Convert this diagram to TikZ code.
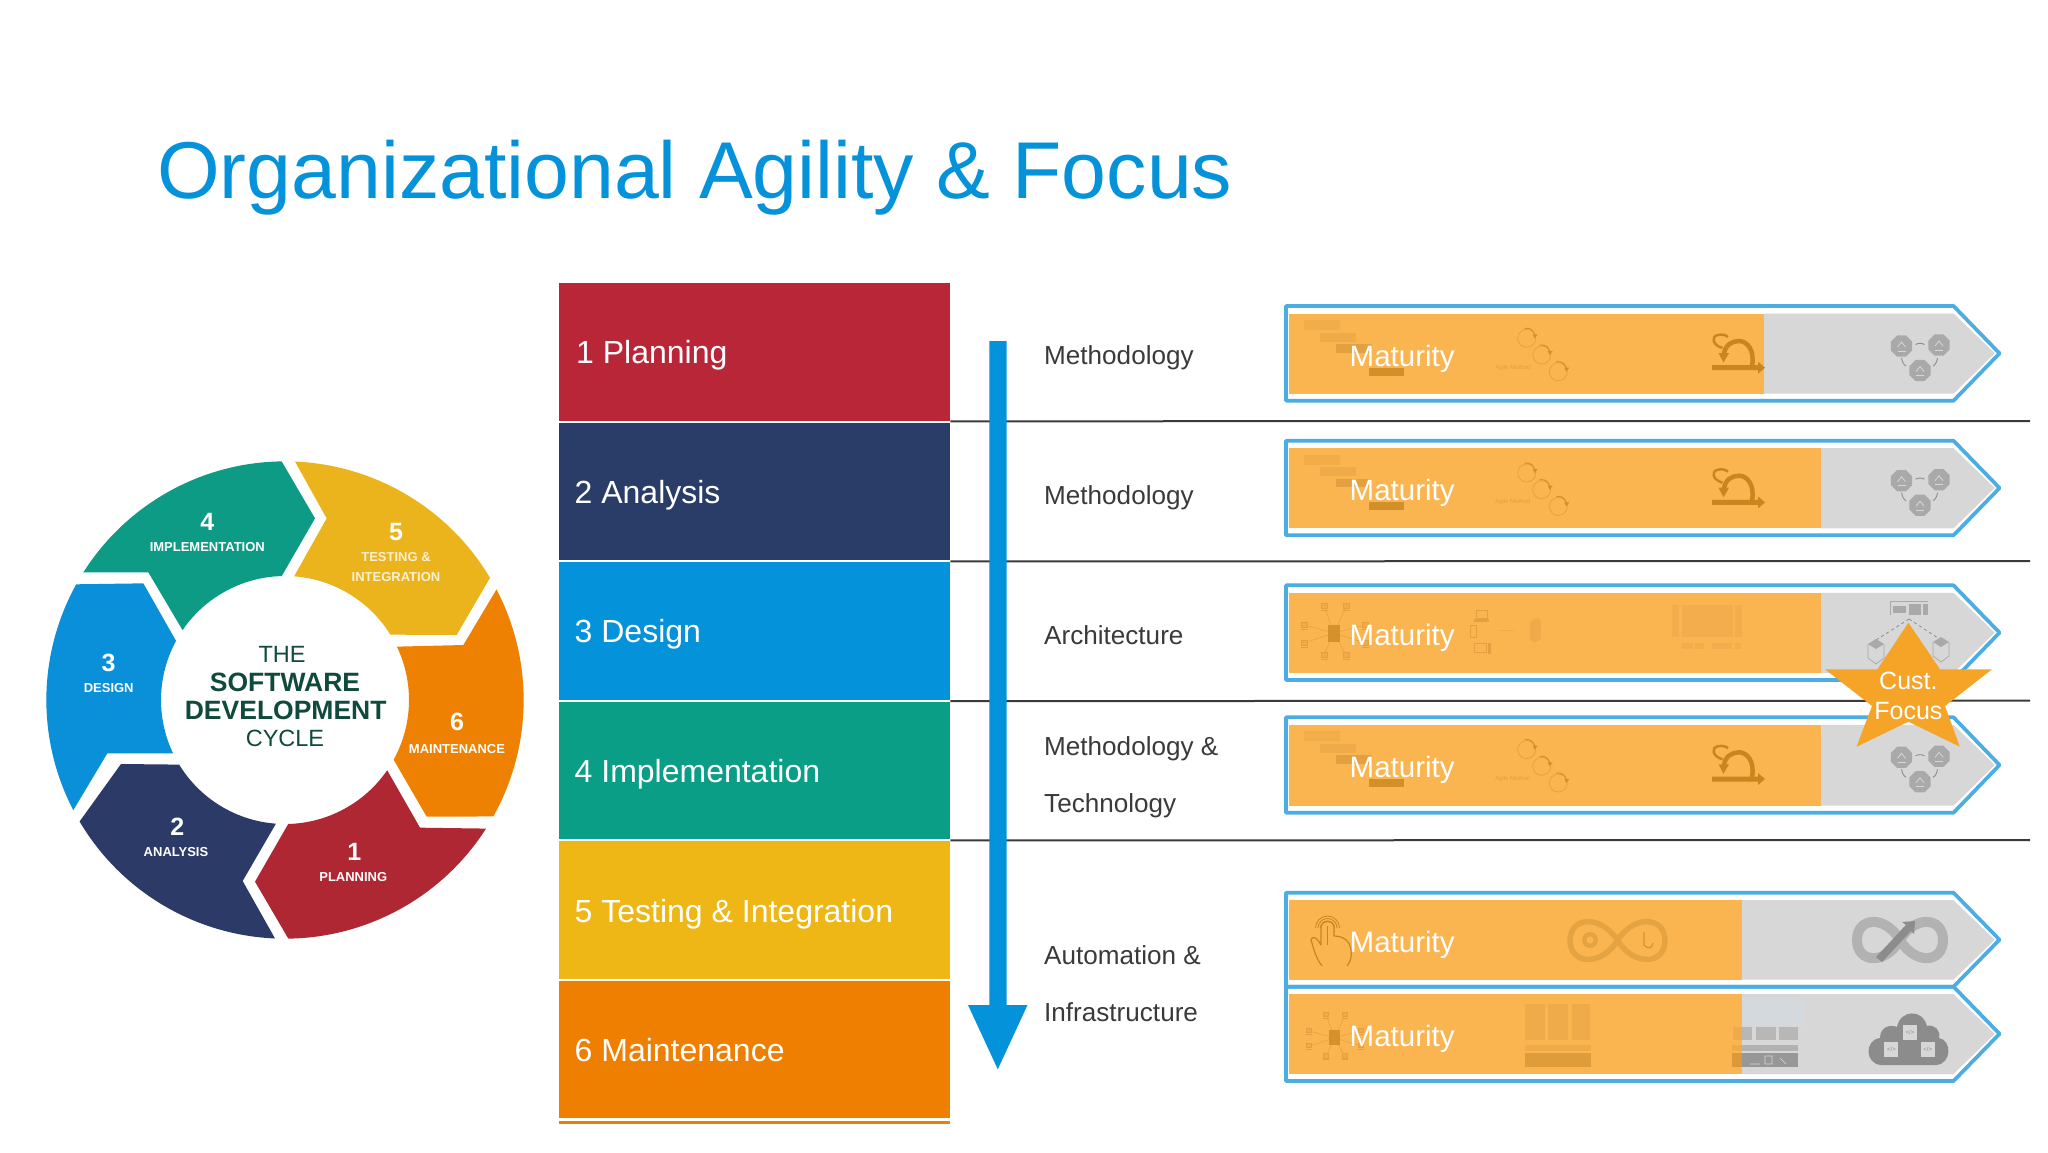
\documentclass[tikz,border=0pt]{standalone}
\usepackage{fontspec}
\setmainfont{Liberation Sans}
\newcommand\fs[1]{\fontsize{#1}{#1}\selectfont}
\definecolor{titleblue}{HTML}{0492DB}
\definecolor{rowred}{HTML}{B92638}
\definecolor{rownavy}{HTML}{2A3C68}
\definecolor{rowteal}{HTML}{0A9E87}
\definecolor{rowyellow}{HTML}{EEB716}
\definecolor{roworange}{HTML}{EF7F00}
\definecolor{wred}{HTML}{AE2733}
\definecolor{wnavy}{HTML}{2B3A67}
\definecolor{wblue}{HTML}{0A8FD9}
\definecolor{wteal}{HTML}{0E9B85}
\definecolor{wyellow}{HTML}{EBB41D}
\definecolor{worange}{HTML}{EE8002}
\definecolor{dgreen}{HTML}{0F4A3C}
\definecolor{labelgray}{HTML}{3A3A3A}
\definecolor{barblue}{HTML}{4BADE2}
\definecolor{barorange}{HTML}{FBB550}
\definecolor{bargray}{HTML}{D7D7D7}
\definecolor{palegray}{HTML}{D3D9DD}
\definecolor{starorange}{HTML}{F5A428}
\definecolor{icA}{HTML}{C9851E}
\definecolor{icB}{HTML}{E2A040}
\definecolor{icC}{HTML}{EFAA4A}
\definecolor{icG}{HTML}{A9A9A9}
\definecolor{icD}{HTML}{8C8C8C}
\tikzset{
  rowbox/.style={anchor=north west,inner sep=0,minimum width=391pt,text=white},
  rowtext/.style={anchor=base west,inner sep=0,text=white,font=\fs{32}},
  sidelabel/.style={anchor=base west,inner sep=0,text=labelgray,font=\fs{26.1}},
  matlabel/.style={anchor=base west,inner sep=0,text=white,font=\fs{29.5}},
  wnum/.style={anchor=base,inner sep=0,text=white,font=\fs{25}\bfseries},
  wlab/.style={anchor=base,inner sep=0,text=white,font=\fs{13}\bfseries},
  wcenB/.style={anchor=base,inner sep=0,text=dgreen,font=\fs{26.5}\bfseries},
  wcenR/.style={anchor=base,inner sep=0,text=dgreen,font=\fs{23.5}},
  sepline/.style={draw=labelgray,line width=2pt},
  baroutline/.style={draw=barblue,line width=3.7pt,line join=round},
  tiny/.style={inner sep=0,font=\fs{6}},
}
% bar: top, bottom, split x
\newcommand\matbar[3]{%
  \pgfmathsetmacro\mt{#1+7.5}\pgfmathsetmacro\mb{#2-7}\pgfmathsetmacro\mm{(#1+#2)/2}%
  \fill[bargray] (#3,\mt) -- (1953.5,\mt) -- (1994.7,\mm) -- (1953.5,\mb) -- (#3,\mb) -- cycle;
  \fill[barorange] (1289.4,\mt) rectangle (#3,\mb);
  \draw[baroutline] (1286,#1) -- (1953.5,#1) -- (1999.5,\mm) -- (1953.5,#2) -- (1286,#2) -- cycle;
}
\newcommand\gantticon{%
  \fill[icC!75!barorange] (1304,320) rectangle (1340,330);
  \fill[icC] (1320,332.7) rectangle (1356,341.7);
  \fill[icB] (1336,344) rectangle (1372,352.7);
  \fill[icA!80!barorange] (1369,367.7) rectangle (1404,375.7);
}
\newcommand\agileicon[1]{%
  \foreach \cx/\cy in {1526.7/338.3,1541.7/355,1558.3/371.7}{
    \draw[icB,line width=.7pt] (\cx,\cy) circle[radius=9pt];
    \draw[icA!80!barorange,line width=1pt] (\cx-2,\cy-10) .. controls (\cx+4,\cy-11) and (\cx+8,\cy-7) .. (\cx+8,\cy-2);
    \fill[icA!80!barorange] (\cx+6,\cy-4) -- (\cx+11,\cy-4) -- (\cx+8,\cy) -- cycle;
  }
  \node[tiny,text=icB] (#1) at (1512.7,367.7) {Agile Method};
}
\newcommand\scrumicon{%
  \fill[icA] (1712,365.2) -- (1758,365.2) -- (1758,361.7) -- (1765,367.7) -- (1758,373.7) -- (1758,370.2) -- (1712,370.2) -- cycle;
  \draw[icA,line width=4.5pt] (1752,366) .. controls (1755,350) and (1747,341) .. (1739,341) .. controls (1732,341) and (1725,345) .. (1724,354);
  \fill[icA] (1718.5,353) -- (1729,353) -- (1723.5,362.5) -- cycle;
  \draw[icA,line width=2.5pt] (1722.5,348) .. controls (1712,345) and (1711,336) .. (1718,335) .. controls (1722,334) and (1726,335) .. (1728,337);
}
\newcommand\hexicon{%
  \foreach \cx/\cy in {1901.5/346,1939/345,1920/370.5}{
    \fill[icG] (\cx,\cy) +(22.5:11.5) -- +(67.5:11.5) -- +(112.5:11.5) -- +(157.5:11.5) -- +(202.5:11.5) -- +(247.5:11.5) -- +(292.5:11.5) -- +(337.5:11.5) -- cycle;
    \draw[bargray,line width=.8pt] (\cx-4,\cy+1) -- (\cx,\cy-4) -- (\cx+4,\cy+1);
    \draw[bargray,line width=.8pt] (\cx-4,\cy+5) -- (\cx+4,\cy+5);
  }
  \draw[icD,line width=.9pt] (1915.6,344.5) .. controls (1918,343) and (1922,343) .. (1924.4,344.5);
  \draw[icD,line width=.9pt] (1901.6,358) .. controls (1902,362) and (1904,365) .. (1906,366);
  \draw[icD,line width=.9pt] (1937.5,358) .. controls (1937,362) and (1935,365) .. (1933,366);
}
\newcommand\neticon[3]{%
  \begin{scope}[shift={(#1,#2)},scale=#3]
    \foreach \dx/\dy in {-10/-27,12.7/-27,-30/-8,-30/10,-10/22,12/22,31/-8,31/10}{
      \draw[icB,line width=.5pt] (0,0) -- (\dx,\dy);
      \draw[icB,line width=.9pt,fill=icC] (\dx-3,\dy-3) rectangle (\dx+3,\dy+2);
      \draw[icB,line width=.9pt] (\dx-3.5,\dy+4) -- (\dx+3.5,\dy+4);
    }
    \fill[icA!75!barorange] (-6,-8.5) rectangle (6,8.5);
  \end{scope}
}
\newcommand\infshape{(0,0) .. controls (.35,-1.1) and (1,-1) .. (1,0) .. controls (1,1) and (.35,1.1) .. (0,0) .. controls (-.35,-1.1) and (-1,-1) .. (-1,0) .. controls (-1,1) and (-.35,1.1) .. (0,0)}
\begin{document}
\begin{tikzpicture}[x=1pt,y=-1pt]
\useasboundingbox (0,0) rectangle (2048,1152);
\fill[white] (0,0) rectangle (2048,1152);

% title
\node[anchor=base west,inner sep=0,text=titleblue,font=\fs{80.6}] (title) at (157,198.5) {Organizational Agility \& Focus};

% wheel
\begin{scope}[x=1pt,y=1pt,shift={(285pt,-700pt)},scale=1/3]
  \fill[wteal] (147.7:716) arc[start angle=147.7,end angle=90.8,radius=716] -- (90,545) -- (91.5:372) arc[start angle=91.5,end angle=145.7,radius=372] -- (-410,383) -- cycle;
  \fill[wyellow] (87.6:716) arc[start angle=87.6,end angle=30.8,radius=716] -- (515,195) -- (31.8:372) arc[start angle=31.8,end angle=85.8,radius=372] -- (125,545) -- cycle;
  \fill[worange] (27.6:716) arc[start angle=27.6,end angle=-29.2,radius=716] -- (425,-350) -- (-28.8:372) arc[start angle=-28.8,end angle=25.5,radius=372] -- (535,165) -- cycle;
  \fill[wred] (-32.6:716) arc[start angle=-32.6,end angle=-89.2,radius=716] -- (-90,-545) -- (-88.5:372) arc[start angle=-88.5,end angle=-34.5,radius=372] -- (405,-383) -- cycle;
  \fill[wnavy] (-92.4:716) arc[start angle=-92.4,end angle=-149.4,radius=716] -- (-492,-192) -- (-148.6:372) arc[start angle=-148.6,end angle=-94.2,radius=372] -- (-127,-543) -- cycle;
  \fill[wblue] (207.5:716) arc[start angle=207.5,end angle=151,radius=716] -- (-425,350) -- (151.5:372) arc[start angle=151.5,end angle=205.5,radius=372] -- (-533,-160) -- cycle;
\end{scope}
\node[wnum] (n4) at (207.3,530.7) {4};
\node[wlab] (l4) at (207.3,551.4) {IMPLEMENTATION};
\node[wnum] (n5) at (396,540.7) {5};
\node[wlab,text=white!80!wyellow] (l5a) at (396,561.4) {TESTING \&};
\node[wlab,text=white!80!wyellow] (l5b) at (396,581.4) {INTEGRATION};
\node[wnum] (n6) at (457,730) {6};
\node[wlab] (l6) at (457,753) {MAINTENANCE};
\node[wnum] (n1) at (354.3,860.7) {1};
\node[wlab] (l1) at (353.3,881.4) {PLANNING};
\node[wnum] (n2) at (177.3,835.7) {2};
\node[wlab] (l2) at (176,856.4) {ANALYSIS};
\node[wnum] (n3) at (108.7,671.3) {3};
\node[wlab] (l3) at (108.7,692) {DESIGN};
\node[wcenR] (c1) at (282,662.3) {THE};
\node[wcenB] (c2) at (285,691.7) {SOFTWARE};
\node[wcenB] (c3) at (285.7,719.3) {DEVELOPMENT};
\node[wcenR] (c4) at (285,746.7) {CYCLE};

% rows
\node[rowbox,fill=rowred,minimum height=137.6pt] (r1) at (559,282.7) {};
\node[rowbox,fill=rownavy,minimum height=137.4pt] (r2) at (559,422.3) {};
\node[rowbox,fill=titleblue,minimum height=137.3pt] (r3) at (559,562) {};
\node[rowbox,fill=rowteal,minimum height=137pt] (r4) at (559,701.7) {};
\node[rowbox,fill=rowyellow,minimum height=137.3pt] (r5) at (559,841) {};
\node[rowbox,fill=roworange,minimum height=136.7pt] (r6) at (559,981) {};
\node[rowbox,fill=roworange,minimum height=3pt] (r7) at (559,1120.7) {};
\node[rowtext] (t1) at (576,363.8) {1 Planning};
\node[rowtext] (t2) at (574.5,503.2) {2 Analysis};
\node[rowtext] (t3) at (574.5,642.5) {3 Design};
\node[rowtext] (t4) at (574.5,782.2) {4 Implementation};
\node[rowtext] (t5) at (574.5,922) {5 Testing \& Integration};
\node[rowtext] (t6) at (574.5,1061.3) {6 Maintenance};

% separators
\coordinate (lineend1) at (2030,421);
\coordinate (lineend2) at (2030,561);
\coordinate (lineend3) at (2030,700.7);
\coordinate (lineend4) at (2030,840);
\draw[sepline] (r1.south east) ++(0,0.6) -- (lineend1);
\draw[sepline] (r2.south east) ++(0,1.3) -- (lineend2);
\draw[sepline] (r3.south east) ++(0,1.4) -- (lineend3);
\draw[sepline] (r4.south east) ++(0,1.3) -- (lineend4);

% arrow
\fill[titleblue] (989.3,341) -- (1006.7,341) -- (1006.7,1005) -- (1027.5,1005) -- (997.8,1069.3) -- (968,1005) -- (989.3,1005) -- cycle;

% side labels
\node[sidelabel] (s1) at (1044,364.5) {Methodology};
\node[sidelabel] (s2) at (1044,504.5) {Methodology};
\node[sidelabel] (s3) at (1044,644) {Architecture};
\node[sidelabel] (s4a) at (1044,755) {Methodology \&};
\node[sidelabel] (s4b) at (1044,812.5) {Technology};
\node[sidelabel] (s5a) at (1044,964) {Automation \&};
\node[sidelabel] (s5b) at (1044,1021.5) {Infrastructure};

% bars
\matbar{306}{400.7}{1763.5}
\gantticon \agileicon{ag1} \scrumicon \hexicon
\node[matlabel] (m1) at (1349.5,366) {Maturity};

\matbar{440.7}{535.3}{1821}
\begin{scope}[shift={(0,134.7)}]
  \gantticon \agileicon{ag2} \scrumicon \hexicon
\end{scope}
\node[matlabel] (m2) at (1349.5,500) {Maturity};

\matbar{585.3}{680}{1821}
\neticon{1334}{633}{1}
% devices
\draw[icB,line width=1pt] (1476,610) rectangle (1487,618); \fill[icB] (1474,619) rectangle (1489,622);
\draw[icB,line width=1pt] (1470.5,625) rectangle (1476,637);
\draw[icB,line width=1pt] (1474,643) rectangle (1486,652); \fill[icB] (1488,643) rectangle (1491,654);
\draw[icC,line width=.8pt] (1498,630.7) -- (1514,630.7);
\fill[icC] (1530,622) .. controls (1535,616) and (1541,618) .. (1541,622) -- (1541,638) .. controls (1538,644) and (1531,643) .. (1530,638) -- cycle;
\fill[icC!70!barorange] (1671.7,605) rectangle (1679,636.7);
\fill[icC!70!barorange] (1681.7,605) rectangle (1733,636.7);
\fill[icC!70!barorange] (1735,605) rectangle (1741.7,636.7);
\foreach \xa/\xb in {1682/1693,1695/1704,1712/1732,1735/1741}{\fill[icC!70!barorange] (\xa,642.7) rectangle (\xb,649);}
\draw[icG,line width=1pt] (1890,615) -- (1890,601) -- (1928,601);
\fill[icG] (1893,606) rectangle (1906,613);
\fill[icG] (1909,604) rectangle (1921,615);
\fill[icG] (1923,604) rectangle (1928,615);
\draw[icD,dashed,line width=.8pt] (1909,619) -- (1876,640) (1909,619) -- (1941,640);
\foreach \cx/\cy in {1876/650,1941/648}{
  \fill[icG] (\cx-8,\cy-6) -- (\cx,\cy-11) -- (\cx+8,\cy-6) -- (\cx,\cy-1) -- cycle;
  \draw[icG,line width=.7pt] (\cx-8,\cy-6) -- (\cx-8,\cy+8) -- (\cx,\cy+14) -- (\cx+8,\cy+8) -- (\cx+8,\cy-6);
}
\node[matlabel] (m3) at (1349.5,645) {Maturity};

\matbar{717.3}{812.7}{1821}
\begin{scope}[shift={(0,411.3)}]
  \gantticon \agileicon{ag4} \scrumicon \hexicon
\end{scope}
\node[matlabel] (m4) at (1349.5,777.3) {Maturity};

\matbar{892.7}{986.7}{1741.6}
% hand
\draw[icA,line width=1.2pt,line join=round] (1322,966) .. controls (1316,958) and (1314,950) .. (1311,940) .. controls (1312,936) and (1316,936) .. (1321,945) -- (1321,926) .. controls (1322,920) and (1333,920) .. (1334,926) -- (1334,936) .. controls (1342,936) and (1350,940) .. (1351,950) .. controls (1352,958) and (1350,962) .. (1347,966);
\foreach \r in {7,9.5,12}{\draw[icA,line width=.8pt] (1327.5,928) ++(\r pt,0) arc[start angle=0,end angle=180,radius=\r pt];}
\draw[icA,line width=.8pt] (1327,945) -- (1327,926);
% infinity
\begin{scope}[shift={(1617.5,940.5)},xscale=47.5,yscale=24]
  \draw[icB!85!barorange,line width=5.5pt] \infshape;
\end{scope}
\fill[icB!85!barorange] (1590,940) circle[radius=8pt];
\fill[barorange] (1590,940) circle[radius=3.5pt];
\draw[icA!70!barorange,line width=1.2pt] (1644,932) -- (1644,945) (1644,945) .. controls (1648,949) and (1652,949) .. (1653,943);
\begin{scope}[shift={(1900,940)},xscale=43,yscale=23]
  \draw[icG!80!bargray,line width=10pt] \infshape;
\end{scope}
\fill[icD] (1876,957) -- (1906,925) -- (1902,922) -- (1915,921) -- (1914,934) -- (1911,931) -- (1882,962) -- cycle;
\node[matlabel] (m5) at (1349.5,952.7) {Maturity};

\matbar{986.7}{1081}{1741.6}
\neticon{1334.5}{1037.7}{.85}
% stacks
\foreach \xa/\xb in {1525/1545,1548/1568,1572/1590}{\fill[icC] (\xa,1003.5) rectangle (\xb,1040);}
\fill[icC] (1525,1045) rectangle (1591,1051);
\fill[icB!85!icA] (1525,1053) rectangle (1591,1067);
\fill[palegray] (1741.6,999) rectangle (1803,1026);
\fill[icC] (1733,1027) rectangle (1741.6,1040);
\fill[icG!70!bargray] (1741.6,1027) rectangle (1752,1040);
\fill[icG!70!bargray] (1756,1027) rectangle (1776,1040);
\fill[icG!70!bargray] (1779,1027) rectangle (1798,1040);
\fill[icC] (1732,1045) rectangle (1741.6,1051);
\fill[icG!80!bargray] (1741.6,1045) rectangle (1798.4,1051);
\fill[icB!75!icA] (1732,1053) rectangle (1741.6,1067);
\fill[icD!85!bargray] (1741.6,1053) rectangle (1798.4,1067);
\draw[bargray,line width=.7pt] (1750,1064) -- (1760,1064) (1765,1056) rectangle (1772,1064) (1780,1058) -- (1786,1064);
% cloud
\fill[icD] (1881,1065) .. controls (1865,1064) and (1864,1040) .. (1880,1038) .. controls (1880,1027) and (1890,1024) .. (1897,1027) .. controls (1900,1010) and (1922,1008) .. (1927,1026) .. controls (1934,1024) and (1941,1030) .. (1939,1038) .. controls (1952,1040) and (1952,1064) .. (1936,1065) -- cycle;
\foreach \nm/\cx/\cy in {d1/1910/1032,d2/1891.4/1049,d3/1927.8/1049}{
  \fill[bargray] (\cx-7,\cy-7.5) rectangle (\cx+7,\cy+7.5);
  \node[tiny,text=icD] (\nm) at (\cx,\cy) {</>};
}
\node[matlabel] (m6) at (1349.5,1046) {Maturity};

% star
\fill[starorange] (1908.4,622.7) -- (1940,669.3) -- (1992,669.3) -- (1945,706) -- (1959.8,746.7) -- (1908.4,721.7) -- (1856.5,746.7) -- (1872,706) -- (1825,669.3) -- (1877.4,669.3) -- cycle;
\node[inner sep=0,text=white,font=\fs{25},anchor=base] (st1) at (1908.4,689.5) {Cust.};
\node[inner sep=0,text=white,font=\fs{25},anchor=base] (st2) at (1908.4,719) {Focus};
\end{tikzpicture}
\end{document}
